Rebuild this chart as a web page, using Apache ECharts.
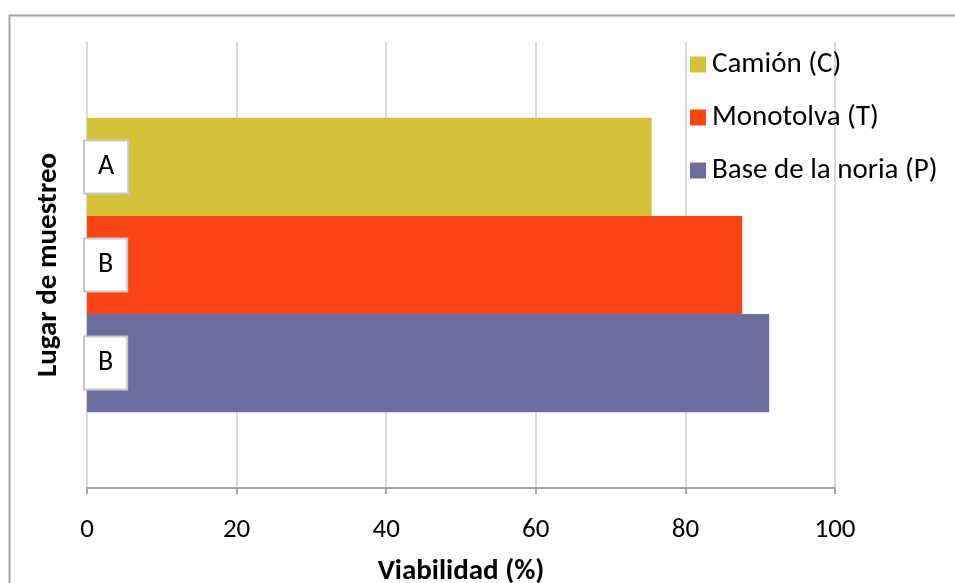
<!DOCTYPE html>
<html>
<head>
<meta charset="utf-8">
<script src="https://cdn.jsdelivr.net/npm/echarts@6/dist/echarts.min.js"></script>
<style>html,body{margin:0;padding:0;background:#fff}#c{width:955px;height:583px}</style>
</head>
<body>
<div id="c"></div>
<script>
const categories = ['Lugar'];
const seriesNames = ['Camión (C)', 'Monotolva (T)', 'Base de la noria (P)'];
const seriesValues = [[75.5], [87.6], [91.2]];
const letters = ['A', 'B', 'B'];
const xTicks = { min: 0, max: 100, interval: 20 };
const colors = ['#D4C238', '#FA4614', '#6E6E9E'];
const FONT = 'Carlito, Lato, sans-serif';

const chart = echarts.init(document.getElementById('c'), null, { renderer: 'canvas' });
chart.setOption({
  animation: false,
  backgroundColor: '#fff',
  color: colors,
  graphic: [{
    type: 'rect', left: 7, top: 13, shape: { width: 960, height: 600 },
    style: { fill: 'none', stroke: '#A6A6A6', lineWidth: 2 }, z: -1
  }],
  legend: {
    orient: 'vertical', left: 685, top: 45, itemWidth: 16, itemHeight: 16, itemGap: 24,
    icon: 'rect',
    textStyle: { fontFamily: FONT, fontSize: 29, color: '#000', padding: [0, 0, 0, 1] },
    data: seriesNames
  },
  grid: { left: 87, right: 120, top: 42, bottom: 95, outerBoundsMode: 'none', containLabel: false },
  xAxis: {
    type: 'value', min: xTicks.min, max: xTicks.max, interval: xTicks.interval,
    name: 'Viabilidad (%)', nameLocation: 'middle', nameGap: 69,
    nameTextStyle: { fontFamily: FONT, fontSize: 29, fontWeight: 'bold', color: '#000' },
    axisLine: { show: true, lineStyle: { color: '#A6A6A6', width: 2 } },
    axisTick: { show: true, length: 6, lineStyle: { color: '#A6A6A6', width: 2 } },
    axisLabel: { fontFamily: FONT, fontSize: 27, color: '#000', margin: 29 },
    splitLine: { show: true, lineStyle: { color: '#D9D9D9', width: 2 } }
  },
  yAxis: {
    type: 'category', data: categories, inverse: true,
    name: 'Lugar de muestreo', nameLocation: 'middle', nameGap: 24, nameRotate: 90,
    nameTextStyle: { fontFamily: FONT, fontSize: 29, fontWeight: 'bold', color: '#000' },
    axisLine: { show: false }, axisTick: { show: false }, axisLabel: { show: false },
    splitLine: { show: false }
  },
  series: seriesNames.map((n, i) => ({
    name: n, type: 'bar', data: seriesValues[i],
    barGap: '0%', barCategoryGap: '34%',
    label: {
      show: true, position: 'insideLeft', distance: -2,
      formatter: () => letters[i],
      fontFamily: FONT, fontSize: 28, color: '#000',
      backgroundColor: '#fff', borderColor: '#C8C8C8', borderWidth: 2,
      padding: [12, 13, 11, 13]
    }
  }))
});
</script>
</body>
</html>
